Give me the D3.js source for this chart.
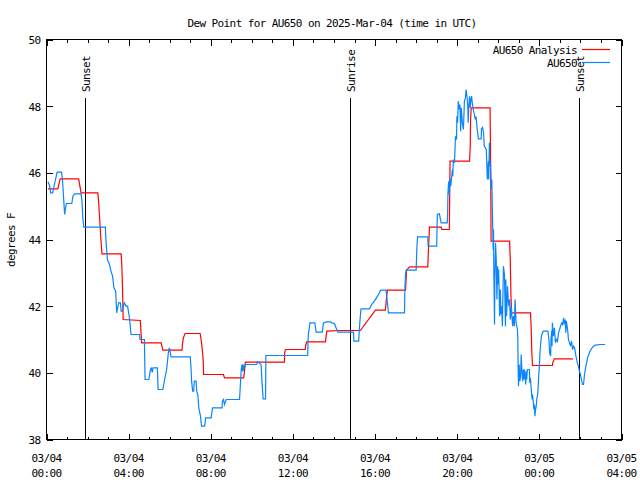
<!DOCTYPE html>
<html>
<head>
<meta charset="utf-8">
<script src="https://cdn.jsdelivr.net/npm/d3@7/dist/d3.min.js"></script>
<style>
  html, body { margin: 0; padding: 0; background: #fff; }
  svg { display: block; }
  text { font-family: "DejaVu Sans Mono", monospace; font-size: 11px; letter-spacing: -0.6px; fill: #000; }
</style>
</head>
<body>
<svg id="chart" width="640" height="480"></svg>
<script>
// ---- data (minutes after 2025-03-04 00:00 UTC, degrees F) ----
const titleText = "Dew Point for AU650 on 2025-Mar-04 (time in UTC)";
const yLabel = "degrees F";
const seriesNames = ["AU650 Analysis", "AU650"];
const yTicks = [38, 40, 42, 44, 46, 48, 50];
const xMajorHours = [0, 4, 8, 12, 16, 20, 24, 28];
const xMinorHours = d3.range(0, 29);
const sunEvents = [
  { label: "Sunset", minute: 113 },
  { label: "Sunrise", minute: 887 },
  { label: "Sunset", minute: 1555 }
];

const analysis = [
  [4,45.52],[33,45.52],[40,45.82],[94,45.82],[101,45.40],[150,45.40],[152,45.15],[155,44.70],
  [158,44.15],[162,43.57],[218,43.57],[220,43.25],[222,42.60],[224,41.60],[274,41.57],[278,40.90],
  [335,40.90],[340,40.68],[396,40.68],[397,40.85],[400,41.05],[405,41.18],[449,41.18],[453,40.90],
  [456,40.61],[458,40.35],[459,39.95],[517,39.95],[520,39.85],[576,39.85],[578,40.00],[581,40.32],
  [695,40.32],[696,40.60],[698,40.70],[756,40.70],[757,40.80],[760,40.93],[815,40.93],[817,41.10],
  [819,41.25],[856,41.27],[917,41.27],[961,41.88],[990,41.88],[993,42.20],[996,42.48],[1049,42.48],
  [1052,43.08],[1061,43.18],[1114,43.18],[1116,43.70],[1119,44.37],[1153,44.37],[1155,44.30],
  [1177,44.30],[1178,45.30],[1179,46.35],[1236,46.35],[1238,46.75],[1239,47.60],[1241,47.95],
  [1296,47.95],[1297,46.95],[1298,45.80],[1299,43.95],[1353,43.95],[1355,43.40],[1357,42.30],
  [1359,41.80],[1414,41.80],[1416,41.40],[1418,40.60],[1420,40.22],[1478,40.22],[1479,40.30],
  [1484,40.42],[1538,40.42]
];

const observed = [
  [4,45.73],[9,45.62],[12,45.40],[18,45.40],[25,45.74],[31,46.02],[44,46.02],[47,45.74],[49,45.41],
  [53,44.75],[56,44.96],[58,45.08],[74,45.08],[77,45.30],[82,45.37],[101,45.37],[104,45.11],
  [106,44.66],[109,44.37],[172,44.37],[173,44.10],[176,43.65],[178,43.40],[184,43.25],[187,43.10],
  [193,42.90],[197,42.55],[202,42.45],[204,42.05],[205,41.80],[208,41.96],[211,42.10],[216,42.10],
  [218,41.85],[222,41.85],[225,42.02],[228,42.10],[232,42.00],[237,42.00],[243,41.60],[247,41.15],
  [272,41.15],[273,41.00],[286,41.00],[288,39.80],[299,39.80],[303,40.05],[306,40.16],[309,40.01],
  [311,40.15],[324,40.15],[326,39.50],[340,39.50],[345,39.80],[351,40.10],[356,40.60],[359,40.75],
  [364,40.48],[420,40.48],[422,40.20],[424,39.75],[427,39.45],[430,39.45],[432,39.75],[437,39.75],
  [439,39.44],[442,39.35],[445,38.95],[448,38.80],[450,38.70],[453,38.40],[462,38.40],[464,38.55],
  [465,38.65],[481,38.65],[483,38.80],[485,38.95],[513,38.95],[514,39.15],[517,39.20],[520,39.05],
  [525,39.20],[564,39.20],[567,39.75],[569,40.10],[571,40.25],[573,40.04],[575,40.25],[576,40.07],
  [581,40.25],[614,40.25],[617,40.34],[627,40.25],[630,39.65],[633,39.22],[640,39.22],[641,40.52],
  [763,40.52],[765,41.15],[770,41.50],[784,41.50],[788,41.22],[806,41.22],[809,41.50],[818,41.53],
  [830,41.53],[833,41.50],[841,41.48],[846,41.35],[851,41.22],[897,41.22],[898,40.95],[912,40.95],
  [915,41.45],[917,41.70],[919,41.92],[944,41.92],[950,42.05],[958,42.15],[964,42.25],[973,42.40],
  [976,42.48],[992,42.48],[995,42.20],[999,41.80],[1046,41.80],[1047,42.50],[1049,42.95],[1051,43.08],
  [1080,43.08],[1082,43.70],[1084,44.08],[1114,44.08],[1115,43.80],[1140,43.80],[1142,44.75],
  [1148,44.77],[1153,44.50],[1171,44.50],[1172,44.80],[1173,45.40],[1175,45.75],[1177,45.35],
  [1178,45.70],[1180,45.82],[1181,45.60],[1186,46.10],[1187,45.90],[1189,46.40],[1192,46.30],
  [1195,47.10],[1198,47.00],[1199,47.70],[1201,47.50],[1203,48.15],[1206,47.90],[1208,48.05],
  [1210,47.25],[1212,47.95],[1213,47.80],[1215,47.50],[1218,47.30],[1220,47.85],[1221,48.15],
  [1224,48.25],[1226,48.50],[1229,48.25],[1231,47.95],[1232,47.50],[1234,48.00],[1236,48.30],
  [1238,47.95],[1240,48.20],[1242,48.30],[1244,48.10],[1247,47.90],[1250,47.75],[1253,47.60],
  [1255,47.69],[1259,47.25],[1262,47.02],[1270,47.02],[1271,47.32],[1274,47.36],[1277,47.20],
  [1279,46.80],[1285,46.70],[1286,46.40],[1288,45.80],[1291,46.35],[1292,45.80],[1294,46.90],
  [1295,46.20],[1297,46.30],[1299,45.50],[1301,45.80],[1303,44.75],[1305,43.70],[1306,44.30],
  [1307,43.10],[1309,41.45],[1310,42.80],[1312,43.90],[1314,43.40],[1316,42.20],[1318,43.20],
  [1320,42.65],[1321,43.10],[1324,41.70],[1326,42.50],[1328,41.75],[1330,42.00],[1332,41.40],
  [1334,42.60],[1335,43.20],[1338,42.95],[1341,41.40],[1342,42.80],[1344,41.70],[1345,41.90],
  [1347,42.60],[1349,42.20],[1351,42.00],[1353,42.20],[1355,41.60],[1358,42.00],[1359,41.80],
  [1362,41.40],[1364,41.70],[1367,41.40],[1369,42.20],[1372,41.50],[1376,41.30],[1377,41.00],
  [1378,40.20],[1379,39.60],[1381,40.25],[1383,39.75],[1385,39.90],[1387,40.55],[1389,40.05],
  [1391,39.75],[1393,40.10],[1395,39.80],[1397,40.10],[1400,39.65],[1402,40.05],[1403,39.80],
  [1405,40.10],[1411,40.10],[1412,39.70],[1414,39.85],[1416,39.55],[1417,39.40],[1419,39.20],
  [1420,39.35],[1422,39.15],[1424,38.90],[1426,39.05],[1427,38.70],[1429,38.90],[1431,39.00],
  [1433,39.25],[1435,39.35],[1437,39.65],[1438,39.90],[1440,40.20],[1442,40.65],[1444,40.90],
  [1446,41.10],[1449,41.20],[1452,41.25],[1465,41.25],[1466,41.15],[1468,41.00],[1470,40.60],
  [1473,40.50],[1474,41.00],[1476,41.25],[1477,40.80],[1478,41.50],[1481,41.10],[1484,41.35],
  [1487,40.90],[1490,41.00],[1493,40.95],[1496,41.20],[1499,41.30],[1502,41.40],[1505,41.50],
  [1508,41.45],[1511,41.65],[1513,41.45],[1516,41.60],[1517,41.20],[1519,41.55],[1521,41.40],
  [1523,41.25],[1525,41.00],[1528,40.90],[1531,40.80],[1534,40.95],[1537,40.70],[1540,40.80],
  [1543,40.75],[1546,40.55],[1549,40.40],[1551,40.30],[1554,40.20],[1557,40.05],[1560,39.95],
  [1563,39.80],[1566,39.65],[1569,39.65],[1572,39.95],[1575,40.15],[1578,40.30],[1581,40.45],
  [1586,40.60],[1592,40.72],[1598,40.80],[1604,40.83],[1616,40.85],[1632,40.85]
];

const colors = { analysis: "#ff0000", observed: "#0a84ff" };

// ---- chart ----
const svg = d3.select("#chart");
const W = 640, H = 480;
const plot = { left: 46.5, right: 621.5, top: 39.5, bottom: 439.5 };

const t0 = Date.UTC(2025, 2, 4, 0, 0);
const toDate = m => new Date(t0 + m * 60000);

const x = d3.scaleUtc()
  .domain([toDate(0), toDate(28 * 60)])
  .range([plot.left, plot.right]);
const y = d3.scaleLinear()
  .domain([38, 50])
  .range([plot.bottom, plot.top]);

svg.append("rect").attr("width", W).attr("height", H).attr("fill", "#fff");

const majorDates = xMajorHours.map(h => toDate(h * 60));
const minorDates = xMinorHours.map(h => toDate(h * 60));

function styleAxis(g) {
  g.select(".domain").remove();
  g.selectAll("line").attr("stroke", "#000").attr("shape-rendering", "crispEdges");
  g.selectAll("text").remove();
}

// bottom minor + major ticks
svg.append("g").attr("transform", `translate(0,${plot.bottom})`)
  .call(d3.axisBottom(x).tickValues(minorDates).tickSize(-3).tickFormat(""))
  .call(styleAxis);
svg.append("g").attr("transform", `translate(0,${plot.bottom})`)
  .call(d3.axisBottom(x).tickValues(majorDates).tickSize(-6).tickFormat(""))
  .call(styleAxis);
// top minor + major ticks
svg.append("g").attr("transform", `translate(0,${plot.top})`)
  .call(d3.axisTop(x).tickValues(minorDates).tickSize(-3).tickFormat(""))
  .call(styleAxis);
svg.append("g").attr("transform", `translate(0,${plot.top})`)
  .call(d3.axisTop(x).tickValues(majorDates).tickSize(-6).tickFormat(""))
  .call(styleAxis);
// left / right ticks
svg.append("g").attr("transform", `translate(${plot.left},0)`)
  .call(d3.axisLeft(y).tickValues(yTicks).tickSize(-6).tickFormat(""))
  .call(styleAxis);
svg.append("g").attr("transform", `translate(${plot.right},0)`)
  .call(d3.axisRight(y).tickValues(yTicks).tickSize(-6).tickFormat(""))
  .call(styleAxis);

// tick labels
const fmtDay = d3.utcFormat("%m/%d");
const fmtTime = d3.utcFormat("%H:%M");
const xl = svg.append("g");
majorDates.forEach(d => {
  xl.append("text").attr("x", x(d)).attr("y", 462).attr("text-anchor", "middle").text(fmtDay(d));
  xl.append("text").attr("x", x(d)).attr("y", 477).attr("text-anchor", "middle").text(fmtTime(d));
});
const yl = svg.append("g");
yTicks.forEach(v => {
  yl.append("text").attr("x", 40.5).attr("y", y(v) + 4.5).attr("text-anchor", "end").text(v);
});

// frame
svg.append("rect")
  .attr("x", plot.left).attr("y", plot.top)
  .attr("width", plot.right - plot.left).attr("height", plot.bottom - plot.top)
  .attr("fill", "none").attr("stroke", "#000").attr("shape-rendering", "crispEdges");

// title & y label
svg.append("text").attr("x", 332).attr("y", 27).attr("text-anchor", "middle").text(titleText);
svg.append("text").attr("transform", "translate(15,240) rotate(-90)")
  .attr("text-anchor", "middle").text(yLabel);

// sunrise / sunset markers
sunEvents.forEach(e => {
  const xx = Math.round(x(toDate(e.minute))) + 0.5;
  svg.append("line").attr("x1", xx).attr("x2", xx).attr("y1", 98).attr("y2", plot.bottom)
    .attr("stroke", "#000").attr("shape-rendering", "crispEdges");
  svg.append("text").attr("transform", `translate(${xx + 4.5},92) rotate(-90)`)
    .attr("text-anchor", "start").text(e.label);
});

// lines
const line = d3.line().x(d => x(toDate(d[0]))).y(d => y(d[1]));
svg.append("path").datum(analysis).attr("d", line)
  .attr("fill", "none").attr("stroke", colors.analysis).attr("stroke-width", 1.2);
svg.append("path").datum(observed).attr("d", line)
  .attr("fill", "none").attr("stroke", colors.observed).attr("stroke-width", 1.2);

// legend
const legend = [
  { name: seriesNames[0], color: colors.analysis, y: 49.5 },
  { name: seriesNames[1], color: colors.observed, y: 62.5 }
];
legend.forEach(l => {
  svg.append("text").attr("x", 577).attr("y", l.y + 4).attr("text-anchor", "end").text(l.name);
  svg.append("line").attr("x1", 582).attr("x2", 610).attr("y1", l.y).attr("y2", l.y)
    .attr("stroke", l.color).attr("stroke-width", 1.2);
});
</script>
</body>
</html>
